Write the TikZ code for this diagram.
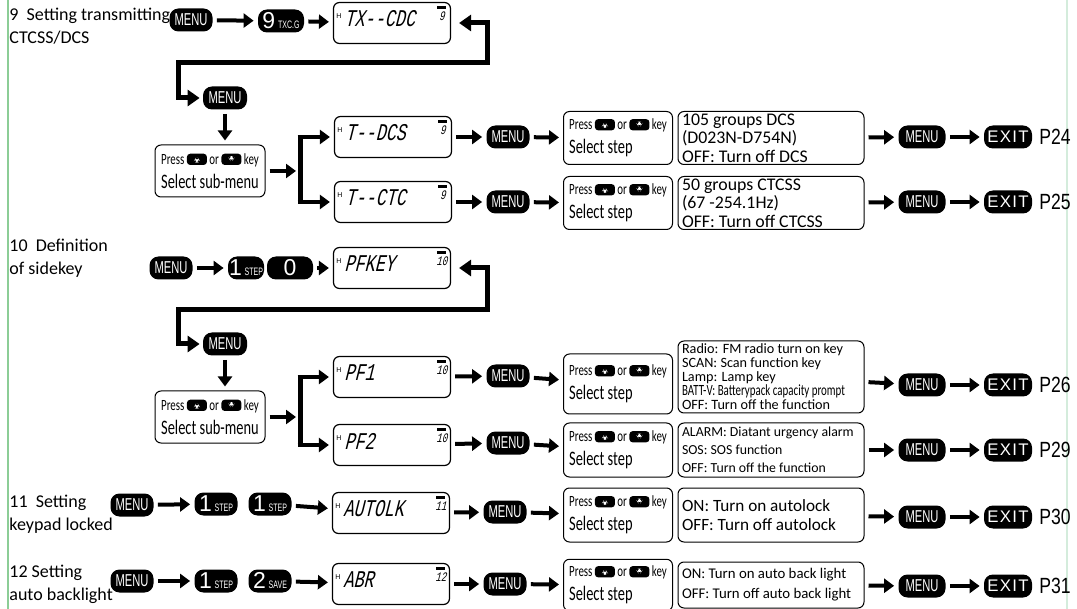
\documentclass[tikz,border=0pt]{standalone}
\usepackage{fontspec}
\setmainfont{Carlito}
\newfontfamily\condfont[FakeStretch=0.7]{Carlito}
\newfontfamily\keyfont[FakeStretch=0.65]{Liberation Sans}
\newfontfamily\digitfont{Liberation Sans}
\newfontfamily\exitfont[LetterSpace=8]{Liberation Sans}
\newfontfamily\pagefont[FakeStretch=0.8]{Liberation Sans}
\newfontfamily\lcdfont[FakeSlant=0.25,FakeStretch=0.7]{Liberation Mono}
\usepackage{tikz}
\usetikzlibrary{arrows.meta, positioning, calc}
\definecolor{rule-green}{RGB}{140, 205, 150}
\definecolor{rule-pale}{RGB}{212, 236, 220}
\newcommand{\upkey}{\tikz[baseline=0pt]{\fill[rounded corners=1.6pt] (0pt,-0.3pt) rectangle (10pt,5.3pt);
  \fill[white] (3pt,0.9pt) -- (7pt,0.9pt) -- (5pt,4.1pt) -- cycle;}}
\newcommand{\downkey}{\tikz[baseline=0pt]{\fill[rounded corners=1.6pt] (0pt,-0.3pt) rectangle (10pt,5.3pt);
  \fill[white] (3pt,4.1pt) -- (7pt,4.1pt) -- (5pt,0.9pt) -- cycle;}}
\newcommand{\numkey}[2]{{\digitfont\fontsize{11.5}{11}\selectfont #1}\,{\keyfont\fontsize{5.4}{5}\selectfont #2}}
\newcommand{\presskeys}{{\fontsize{7.8}{12}\selectfont Press \upkey{} or \downkey{} key}}
\newcommand{\lcdscreen}[4]{%
  \node[lcdbox] (#1) at (#2) {};
  \node[lcdtag] at ($(#1.west)+(3pt,3.5pt)$) {H};
  \node[lcdtext] at ($(#1.west)+(5.5pt,2pt)$) {#3};
  \fill ($(#1.north east)+(-7pt,-2pt)$) rectangle ++(4.5pt,-1.6pt);
  \node[lcdnum] at ($(#1.north east)+(-4.6pt,-7pt)$) {#4};
}

\begin{document}
\begin{tikzpicture}[x=0.5pt, y=-0.5pt,
    key/.style={fill=black, rounded corners=4.5pt, text=white, inner sep=0pt,
                minimum width=21.5pt, minimum height=11.5pt,
                font=\keyfont\fontsize{8.6}{9}\selectfont},
    exitkey/.style={key, minimum width=24pt, font=\exitfont\fontsize{8.4}{9}\selectfont},
    lcdbox/.style={draw, rounded corners=3pt, line width=0.6pt,
                   minimum width=58.5pt, minimum height=20.5pt, inner sep=0pt},
    lcdtext/.style={anchor=west, inner sep=0pt, font=\lcdfont\fontsize{12}{12}\selectfont},
    lcdtag/.style={inner sep=0pt, font=\digitfont\fontsize{3.5}{4}\selectfont},
    lcdnum/.style={inner sep=0pt, font=\lcdfont\fontsize{6.5}{6}\selectfont},
    sub/.style={draw, rounded corners=3pt, line width=0.5pt, align=left,
                inner xsep=2.5pt, minimum width=55pt, minimum height=26pt,
                font=\condfont\fontsize{10.3}{12}\selectfont},
    stepbox/.style={sub, minimum width=54.5pt, minimum height=26.5pt},
    info/.style={draw, rounded corners=3pt, line width=0.5pt, align=flush left,
                 inner xsep=2pt, inner ysep=1pt, text width=89pt, minimum height=26.5pt,
                 font=\fontsize{8.9}{9.3}\selectfont},
    ttl/.style={anchor=north west, align=left, inner sep=0pt, font=\fontsize{9}{11.5}\selectfont},
    pg/.style={anchor=west, inner sep=0pt, font=\pagefont\fontsize{11}{11}\selectfont},
    arr/.style={-{Triangle[length=5pt,width=7pt]}, line width=2pt, shorten <=2pt, shorten >=2pt},
    brarr/.style={arr, shorten <=-1.25pt},
    ret/.style={{Triangle[length=6pt,width=8pt]}-{Triangle[length=6pt,width=8pt]},
                line width=2.5pt, shorten <=4pt, shorten >=1.5pt},
    bar/.style={line width=2.5pt},
    rule/.style={line width=0.8pt}
  ]
  \useasboundingbox (0,0) rectangle (1077,609);
  \fill[white] (0,0) rectangle (1077,609);
  \draw[rule, rule-green] (8,0) -- (8,609);
  \draw[rule, rule-pale] (1067,0) -- (1067,609);

  \node[ttl] (t9) at (9,8) {9\ \ Setting transmitting\\CTCSS/DCS};
  \node[key] (m9a) at (191,20) {MENU};
  \node[key, minimum width=23pt] (n9) at (281,21) {\numkey{9}{TXC.G}};
  \lcdscreen{d9}{392,23}{TX-{}-CDC}{9}
  \node[key, minimum width=22pt] (m9b) at (225,98) {MENU};
  \node[sub] (s9) at (210,171) {\presskeys\\Select sub-menu};
  \coordinate (b9) at (300,171);
  \coordinate (b9t) at (300,137);
  \coordinate (b9b) at (300,202);
  \lcdscreen{d9a}{393,137}{T-{}-DCS}{9}
  \lcdscreen{d9b}{393,202}{T-{}-CTC}{9}
  \node[key] (m9c) at (508,137) {MENU};
  \node[key] (m9d) at (508,202) {MENU};
  \node[stepbox] (p9a) at (618,138) {\presskeys\\Select step};
  \node[stepbox] (p9b) at (618,203) {\presskeys\\Select step};
  \node[info] (i9a) at (771,138) {105 groups DCS\\(D023N-D754N)\\OFF: Turn off DCS};
  \node[info] (i9b) at (771,203) {50 groups CTCSS\\(67 -254.1Hz)\\OFF: Turn off CTCSS};
  \node[key, minimum width=23.5pt] (m9e) at (922,137) {MENU};
  \node[key, minimum width=23.5pt] (m9f) at (922,202) {MENU};
  \node[exitkey] (x9a) at (1008,137) {EXIT};
  \node[exitkey] (x9b) at (1008,202) {EXIT};
  \node[pg] (g9a) at (1039,137) {P24};
  \node[pg] (g9b) at (1039,202) {P25};
  \draw[ret] (d9.east) -- (487,23) -- (487,63) -- (178,63) |- (m9b.west);
  \draw[arr] (m9b.south) -- (m9b.south |- s9.north);
  \draw[bar] (b9t) -- (b9b);
  \draw[brarr] (b9t) -- (d9a);
  \draw[brarr] (b9b) -- (d9b);
  \foreach \a/\b in {m9a/n9, n9/d9, s9/b9, d9a/m9c, m9c/p9a, i9a/m9e, m9e/x9a,
                     d9b/m9d, m9d/p9b, i9b/m9f, m9f/x9b}
    \draw[arr] (\a) -- (\b);

  \node[ttl] (t10) at (9,239) {10\ \ Definition\\of sidekey};
  \node[key] (m10a) at (171,268) {MENU};
  \node[key, minimum width=18pt] (o10) at (246,268) {\numkey{1}{STEP}};
  \node[key, minimum width=23pt] (z10) at (290,268) {{\digitfont\fontsize{11.5}{11}\selectfont 0}};
  \lcdscreen{d10}{392,268}{PFKEY}{10}
  \node[key, minimum width=22pt] (m10b) at (225,344) {MENU};
  \node[sub] (s10) at (210,417) {\presskeys\\Select sub-menu};
  \coordinate (b10) at (300,417);
  \coordinate (b10t) at (300,377);
  \coordinate (b10b) at (300,445);
  \lcdscreen{d10a}{392,377}{PF1}{10}
  \lcdscreen{d10b}{392,445}{PF2}{10}
  \node[key] (m10c) at (508,376) {MENU};
  \node[key] (m10d) at (508,443) {MENU};
  \node[stepbox, minimum height=30pt] (p10a) at (618,384) {\presskeys\\Select step};
  \node[stepbox, minimum height=27pt] (p10b) at (618,450) {\presskeys\\Select step};
  \node[info, minimum height=36pt, font=\fontsize{7.1}{7}\selectfont] (i10a) at (771,377)
    {Radio: FM radio turn on key\\SCAN: Scan function key\\Lamp: Lamp key\\{\condfont\fontsize{7.8}{7}\selectfont BATT-V: Batterypack capacity prompt}\\OFF: Turn off the function};
  \node[info, minimum height=27pt, font=\fontsize{6.9}{9}\selectfont] (i10b) at (771,450)
    {ALARM: Diatant urgency alarm\\SOS: SOS function\\OFF: Turn off the function};
  \node[key, minimum width=23.5pt] (m10e) at (922,385) {MENU};
  \node[key, minimum width=23.5pt] (m10f) at (922,450) {MENU};
  \node[exitkey] (x10a) at (1008,385) {EXIT};
  \node[exitkey] (x10b) at (1008,450) {EXIT};
  \node[pg] (g10a) at (1039,385) {P26};
  \node[pg] (g10b) at (1039,450) {P29};
  \draw[ret] (d10.east) -- (487,268) -- (487,310) -- (178,310) |- (m10b.west);
  \draw[arr] (m10b.south) -- (m10b.south |- s10.north);
  \draw[bar] (b10t) -- (b10b);
  \draw[brarr] (b10t) -- (d10a);
  \draw[brarr] (b10b) -- (d10b);
  \foreach \a/\b in {m10a/o10, z10/d10, s10/b10, d10a/m10c, m10c/p10a, i10a/m10e, m10e/x10a,
                     d10b/m10d, m10d/p10b, i10b/m10f, m10f/x10b}
    \draw[arr] (\a) -- (\b);

  \node[ttl] (t11) at (9,495) {11\ \ Setting\\keypad locked};
  \node[key] (m11a) at (132,505) {MENU};
  \node[key] (o11a) at (216,504) {\numkey{1}{STEP}};
  \node[key] (o11b) at (270,504) {\numkey{1}{STEP}};
  \lcdscreen{d11}{391,513}{AUTOLK}{11}
  \node[key] (m11b) at (505,512) {MENU};
  \node[stepbox, minimum height=27pt] (p11) at (618,515) {\presskeys\\Select step};
  \node[info, minimum height=27pt, font=\fontsize{8.6}{9.6}\selectfont] (i11) at (771,515)
    {ON: Turn on autolock\\OFF: Turn off autolock};
  \node[key, minimum width=23.5pt] (m11c) at (922,517) {MENU};
  \node[exitkey] (x11) at (1008,517) {EXIT};
  \node[pg] (g11) at (1039,517) {P30};
  \foreach \a/\b in {m11a/o11a, o11b/d11, d11/m11b, m11b/p11, i11/m11c, m11c/x11}
    \draw[arr] (\a) -- (\b);

  \node[ttl] (t12) at (9,565) {12 Setting\\auto backlight};
  \node[key] (m12a) at (132,581) {MENU};
  \node[key] (o12a) at (216,581) {\numkey{1}{STEP}};
  \node[key] (o12b) at (270,581) {\numkey{2}{SAVE}};
  \lcdscreen{d12}{391,584}{ABR}{12}
  \node[key] (m12b) at (505,584) {MENU};
  \node[stepbox, minimum height=23pt] (p12) at (618,585) {\presskeys\\Select step};
  \node[info, minimum height=23pt, font=\fontsize{7.4}{10}\selectfont] (i12) at (771,585)
    {ON: Turn on auto back light\\OFF: Turn off auto back light};
  \node[key, minimum width=23.5pt] (m12c) at (922,586) {MENU};
  \node[exitkey] (x12) at (1008,586) {EXIT};
  \node[pg] (g12) at (1039,586) {P31};
  \foreach \a/\b in {m12a/o12a, o12b/d12, d12/m12b, m12b/p12, i12/m12c, m12c/x12}
    \draw[arr] (\a) -- (\b);
\end{tikzpicture}
\end{document}
